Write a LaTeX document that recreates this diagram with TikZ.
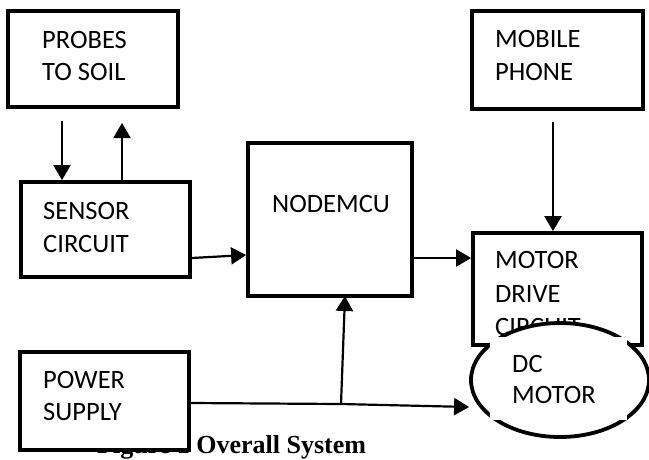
\documentclass[tikz,border=0pt]{standalone}
\usepackage{fontspec}
\setmainfont{Carlito}
\newfontfamily\capfont{Liberation Serif}
\usetikzlibrary{arrows.meta,shapes.geometric}
\begin{document}
\begin{tikzpicture}[x=1pt,y=-1pt,
  blk/.style={draw,line width=3.8pt,fill=white,inner sep=0pt,minimum width=#1},
  lbl/.style={anchor=base west,inner sep=0pt,font=\fontsize{26.5}{30}\selectfont},
  conn/.style={line width=2.2pt,-{Triangle[length=15pt,width=17pt]}}]
\useasboundingbox (0,0) rectangle (649,459);
% caption (partly hidden under the power supply box)
\node[anchor=base west,inner sep=0pt,font=\capfont\bfseries\fontsize{26}{30}\selectfont] (cap) at (97,453) {Figure 1 Overall System};
% boxes
\node[blk=170pt,minimum height=96pt] (probes) at (93,59) {};
\node[blk=169pt,minimum height=95pt] (sensor) at (105.5,229.5) {};
\node[blk=164pt,minimum height=153pt] (mcu) at (330,219.5) {};
\node[blk=171pt,minimum height=98pt] (mobile) at (557.5,60) {};
\node[blk=169pt,minimum height=112pt] (drive) at (557.5,289) {};
\node[blk=169pt,minimum height=98pt] (power) at (104.5,401) {};
% texts
\node[lbl] (t1) at (42,48) {PROBES};
\node[lbl] (t2) at (42,80) {TO SOIL};
\node[lbl] (t3) at (43,219) {SENSOR};
\node[lbl] (t4) at (43,252) {CIRCUIT};
\node[lbl] (t5) at (272,212) {NODEMCU};
\node[lbl] (t6) at (495,47) {MOBILE};
\node[lbl] (t7) at (495,80) {PHONE};
\node[lbl] (t8) at (495,268) {MOTOR};
\node[lbl] (t9) at (495,302) {DRIVE};
\node[lbl] (t10) at (495,335) {CIRCUIT};
\node[lbl] (t11) at (43,388) {POWER};
\node[lbl] (t12) at (43,420) {SUPPLY};
% DC motor ellipse with its white text box
\node[ellipse,draw,line width=3.8pt,fill=white,inner sep=0pt,minimum width=178pt,minimum height=114pt] (dc) at (560,380) {};
\fill[white] (490,337) rectangle (627,420);
\node[lbl] (t13) at (512,372) {DC};
\node[lbl] (t14) at (512,403) {MOTOR};
% connectors
\coordinate (pd1) at (62,121);
\coordinate (pu1) at (122,123);
\coordinate (m1) at (553,122);
\coordinate (j) at (341,404);
\draw[conn] (pd1) -- (sensor.north -| pd1);
\draw[conn] (sensor.north -| pu1) -- (pu1);
\draw[conn] (sensor.east |- 0,258) -- (mcu.west |- 0,255);
\draw[conn] (mcu.east |- 0,258) -- (drive.west |- 0,258);
\draw[conn] (m1) -- (drive.north -| m1);
\draw[line width=2.2pt] (power.east |- 0,403) -- (j);
\draw[conn] (j) -- (dc.west |- 0,407);
\draw[conn] (j) -- (345,296) coordinate (mb);
\end{tikzpicture}
\end{document}
